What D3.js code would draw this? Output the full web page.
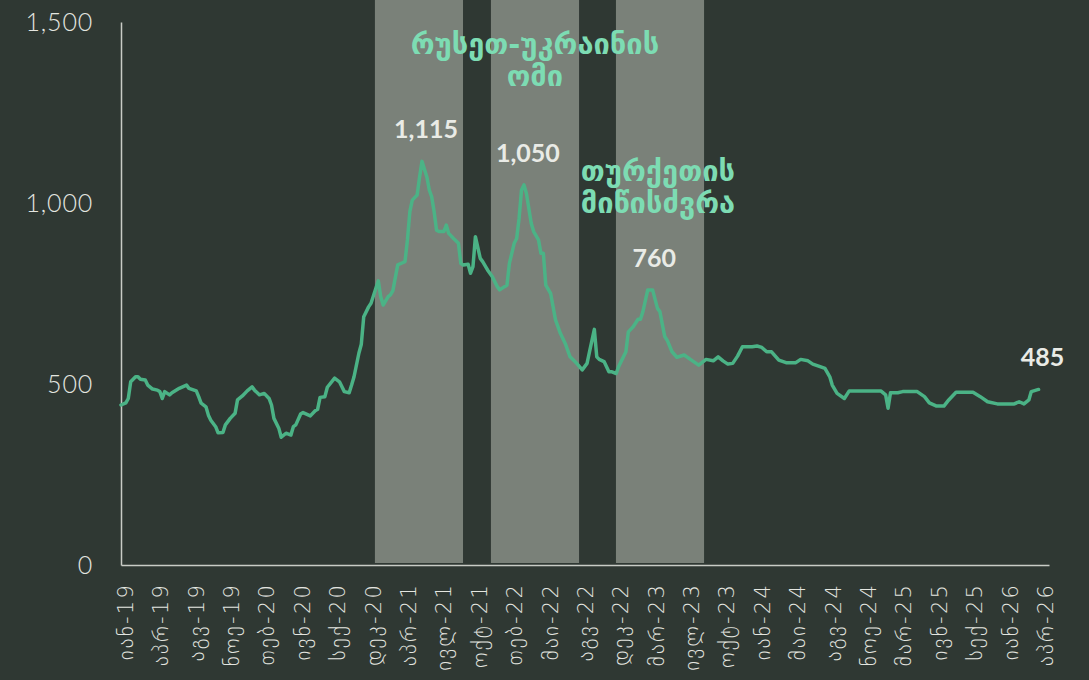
<!DOCTYPE html>
<html>
<head>
<meta charset="utf-8">
<script src="https://cdn.jsdelivr.net/npm/d3@7"></script>
<style>
  html, body { margin: 0; padding: 0; background: #2f3833; }
  svg { display: block; }
</style>
</head>
<body>
<div class="chart-container"></div>
<script>
// week index (weeks since start of 2019) and price for each point
const weeks = [0,2,3,4,6,7,8,10,11,13,15,16,17,18,20,21,24,27,28,31,32,33,35,36,37,39,40,42,43,45,47,48,50,52,54,55,57,59,61,62,63,65,66,68,70,71,72,74,75,78,80,81,82,84,85,88,90,92,94,95,96,98,99,100,102,103,106,107,108,110,111,112,114,116,117,118,119,120,122,123,124,126,127,128,129,130,131,133,134,135,137,139,140,141,143,144,145,146,148,149,151,153,155,156,158,159,160,162,163,164,165,166,167,169,170,172,173,174,175,177,179,181,183,185,187,188,190,192,193,195,196,197,199,201,202,204,205,208,209,211,213,214,215,217,219,221,222,224,225,227,229,232,235,238,241,244,246,248,250,252,254,256,260,262,264,266,268,271,274,278,280,283,285,288,290,292,293,295,298,300,313,315,316,317,320,322,328,331,333,336,339,341,344,351,354,357,361,368,370,372,374,375,377,378];
const prices = [442,448,460,506,520,520,513,511,497,486,483,479,460,479,470,476,488,497,488,481,465,447,437,414,400,382,365,366,387,405,419,456,467,481,492,483,470,474,460,442,405,378,353,364,359,382,387,417,421,412,426,430,463,465,491,516,506,479,476,497,520,585,610,686,713,723,785,741,718,741,746,758,829,835,838,898,976,1008,1022,1072,1115,1072,1036,1017,976,925,921,921,939,916,902,889,833,829,831,806,824,907,847,838,815,796,769,760,769,773,833,889,902,958,1036,1050,1027,944,921,898,861,861,773,750,677,640,612,575,562,555,539,557,589,651,575,568,562,534,534,529,548,589,644,658,679,679,700,760,760,709,700,631,621,589,574,580,566,552,568,564,575,564,555,557,577,603,603,605,601,589,589,566,559,559,568,564,555,548,543,520,497,474,460,481,481,470,433,476,476,479,479,465,448,439,439,456,477,477,465,451,445,445,451,445,456,479,483,485];

const tickWeeks = [1.6,16.2,30.8,45.4,59.9,74.5,89.1,103.7,118.3,132.8,147.4,162.0,176.6,191.1,205.7,220.3,234.9,249.4,264.0,278.6,293.2,307.8,322.3,336.9,351.5,366.1,380.6];
const tickLabels = ["იან-19","აპრ-19","აგვ-19","ნოე-19","თებ-20","ივნ-20","სექ-20","დეკ-20","აპრ-21","ივლ-21","ოქტ-21","თებ-22","მაი-22","აგვ-22","დეკ-22","მარ-23","ივლ-23","ოქტ-23","იან-24","მაი-24","აგვ-24","ნოე-24","მარ-25","ივნ-25","სექ-25","იან-26","აპრ-26"];
const yTicks = [0, 500, 1000, 1500];

// shaded periods, start/end week
const bandStarts = [104.6, 152.4, 203.9];
const bandEnds = [140.9, 188.7, 240.2];

// highlighted values
const peakWeeks = [124, 166, 218, 378];
const peakValues = [1115, 1050, 760, 485];

const noteLines = [["რუსეთ-უკრაინის", "ომი"], ["თურქეთის", "მიწისძვრა"]];
const noteWeeks = [170.5, 221.2];
const noteValues = [1411, 1061];

let w = 1089;
let h = 680;
let padLeft = 121, padRight = 1049, padTop = 22, padBottom = 565;

let svg = d3.select(".chart-container").append("svg")
  .attr("width", w)
  .attr("height", h)
  .attr("viewBox", `0 0 ${w} ${h}`);

svg.append("rect").attr("width", w).attr("height", h).attr("fill", "#2f3833");

let xScale = d3.scaleLinear().domain([0, 382.3]).range([padLeft, padRight]);
let yScale = d3.scaleLinear().domain([0, 1500]).range([padBottom, padTop]);

// grey periods
svg.selectAll("rect.band")
  .data(bandStarts)
  .enter()
  .append("rect")
  .attr("class", "band")
  .attr("x", (d) => xScale(d))
  .attr("y", 0)
  .attr("width", (d, i) => xScale(bandEnds[i]) - xScale(d))
  .attr("height", yScale(0) - 2)
  .attr("fill", "#7a8179");

// y axis
let yAxis = d3.axisLeft(yScale).tickValues(yTicks).tickSize(0).tickPadding(28)
  .tickFormat(d3.format(","));
let gy = svg.append("g")
  .attr("transform", `translate(${padLeft}, 0)`)
  .call(yAxis);
gy.select(".domain").attr("stroke", "#c9ccc6").attr("stroke-width", 1.5);
gy.selectAll("text")
  .attr("fill", "#e4e6e0")
  .style("font-family", "Lato, 'Open Sans', sans-serif")
  .style("font-weight", "300")
  .style("font-size", "25px")
  .style("letter-spacing", "0.8px");

// x axis
let xAxis = d3.axisBottom(xScale).tickValues(tickWeeks).tickSize(0).tickPadding(0)
  .tickFormat((d, i) => tickLabels[i]);
let gx = svg.append("g")
  .attr("transform", `translate(0, ${padBottom})`)
  .call(xAxis);
gx.select(".domain").attr("stroke", "#c9ccc6").attr("stroke-width", 1.5);
gx.selectAll("text")
  .attr("transform", "rotate(-90)")
  .attr("x", -18)
  .attr("y", 0)
  .attr("dy", "0.35em")
  .attr("text-anchor", "end")
  .attr("fill", "#e4e6e0")
  .style("font-family", "'DejaVu Sans', sans-serif")
  .style("font-weight", "300")
  .style("font-size", "21px")
  .style("letter-spacing", "2.2px");

// price line
let line = d3.line()
  .x((d, i) => xScale(weeks[i]))
  .y((d) => yScale(d));
svg.append("path")
  .datum(prices)
  .attr("d", line)
  .attr("fill", "none")
  .attr("stroke", "#4bb386")
  .attr("stroke-width", 3.5)
  .attr("stroke-linejoin", "round")
  .attr("stroke-linecap", "round");

// value labels
svg.selectAll("text.peak")
  .data(peakValues)
  .enter()
  .append("text")
  .attr("class", "peak")
  .attr("x", (d, i) => xScale(peakWeeks[i]) + 4)
  .attr("y", (d) => yScale(d) - 23)
  .attr("text-anchor", "middle")
  .attr("fill", "#e9ebe6")
  .style("font-family", "Lato, 'Open Sans', sans-serif")
  .style("font-weight", "700")
  .style("font-size", "25px")
  .text((d) => d3.format(",")(d));

// event notes
noteLines.forEach((lines, i) => {
  let t = svg.append("text")
    .attr("x", xScale(noteWeeks[i]))
    .attr("y", yScale(noteValues[i]))
    .attr("text-anchor", "middle")
    .attr("fill", "#7ddcb3")
    .style("font-family", "'DejaVu Sans', sans-serif")
    .style("font-weight", "700")
    .style("font-size", "29px");
  lines.forEach((l, j) => {
    t.append("tspan")
      .attr("x", xScale(noteWeeks[i]))
      .attr("dy", j === 0 ? 0 : 32)
      .text(l);
  });
});
</script>
</body>
</html>
